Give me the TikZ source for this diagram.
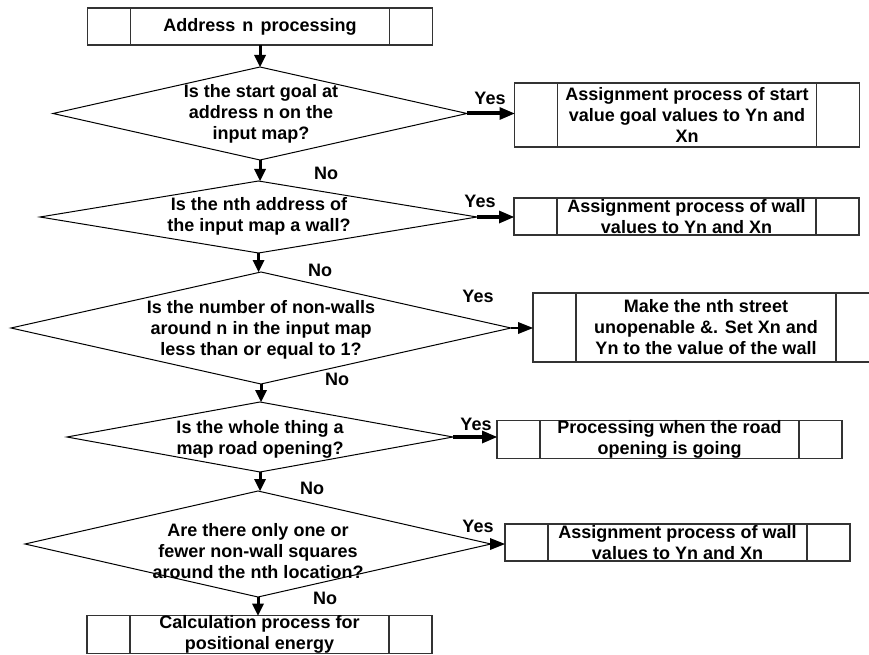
\documentclass[tikz,border=0pt]{standalone}
\usepackage{fontspec}
\setmainfont{Liberation Sans}
\usetikzlibrary{shapes.geometric,arrows.meta}
\begin{document}
\begin{tikzpicture}[x=1pt,y=-1pt,
  every node/.style={outer sep=0pt},
  txt/.style={font=\fontsize{18}{21}\selectfont\bfseries, align=center, inner sep=0pt},
  procbox/.style={txt, draw=black!80, line width=1.2pt, minimum width=345pt, minimum height=37pt,
    path picture={\draw[black!80,line width=1.2pt]
      ([xshift=43pt]path picture bounding box.north west) -- ([xshift=43pt]path picture bounding box.south west)
      ([xshift=-43pt]path picture bounding box.north east) -- ([xshift=-43pt]path picture bounding box.south east);}},
  decision/.style={diamond, draw=black, line width=1pt, inner sep=0pt},
  flow/.style={line width=3pt, -{Triangle[length=12pt,width=12pt,line width=0pt]}},
  yesflow/.style={line width=4pt, -{Triangle[length=15pt,width=13pt,line width=0pt]}},
  yesthin/.style={line width=1.2pt, -{Triangle[length=15pt,width=12pt,line width=0pt]}}
]
\useasboundingbox (0,0) rectangle (869,655);

% processing boxes
\node[procbox] (b1) at (260,26.5) {Address\hspace{0.4em}n\hspace{0.4em}processing};
\node[procbox, minimum height=64pt] (b2) at (687,115) {Assignment process of start\\value goal values to Yn and\\Xn};
\node[procbox] (b3) at (686.5,216.5) {Assignment process of wall\\values to Yn and Xn};
\node[procbox, minimum width=346pt, minimum height=69pt] (b4) at (706,327.5) {Make the nth street\\unopenable \&. Set Xn and\\Yn to the value of the wall};
\node[procbox] (b5) at (669.5,439.5) {Processing when the road\\opening is going};
\node[procbox] (b6) at (677.5,542.5) {Assignment process of wall\\values to Yn and Xn};
\node[procbox] (b7) at (259.5,634.5) {Calculation process for\\positional energy};

% decisions
\node[decision, minimum width=414pt, minimum height=93pt] (d1) at (260,113.5) {};
\node[decision, minimum width=437pt, minimum height=72pt] (d2) at (258.5,217) {};
\node[decision, minimum width=500pt, minimum height=112pt] (d3) at (261,328) {};
\node[decision, minimum width=386pt, minimum height=70pt] (d4) at (260,437) {};
\node[decision, minimum width=466pt, minimum height=106pt] (d5) at (258,544) {};

\node[txt] (q1) at (261,114) {Is the start goal at\\address n on the\\input map?};
\node[txt] (q2) at (259,216) {Is the nth address of\\the input map a wall?};
\node[txt] (q3) at (261,330) {Is the number of non-walls\\around n in the input map\\less than or equal to 1?};
\node[txt] (q4) at (260,439) {Is the whole thing a\\map road opening?};
\node[txt] (q5) at (258,551) {Are there only one or\\fewer non-wall squares\\around the nth location?};

% main flow
\draw[flow] (b1.south) -- (d1.north);
\draw[flow] (d1.south) -- (d1.south |- d2.north);
\draw[flow] (d2.south) -- (d2.south |- d3.north);
\draw[flow] (d3.south) -- (d3.south |- d4.north);
\draw[flow] (d4.south) -- (d4.south |- d5.north);
\draw[flow] (d5.south) -- (d5.south |- b7.north);

% yes branches
\draw[yesflow] (d1.east) -- (d1.east -| b2.west);
\draw[yesflow] (d2.east) -- (d2.east -| b3.west);
\draw[yesthin] (d3.east) -- (d3.east -| b4.west);
\draw[yesflow] (d4.east) -- (d4.east -| b5.west);
\draw[yesthin] (d5.east) -- (d5.east -| b6.west);

% branch labels
\node[txt] (y1) at (490,98) {Yes};
\node[txt] (n1) at (326,173) {No};
\node[txt] (y2) at (480,201) {Yes};
\node[txt] (n2) at (320,270) {No};
\node[txt] (y3) at (478,296) {Yes};
\node[txt] (n3) at (337,379) {No};
\node[txt] (y4) at (476,424) {Yes};
\node[txt] (n4) at (312,488) {No};
\node[txt] (y5) at (478,526) {Yes};
\node[txt] (n5) at (325,598) {No};
\end{tikzpicture}
\end{document}
